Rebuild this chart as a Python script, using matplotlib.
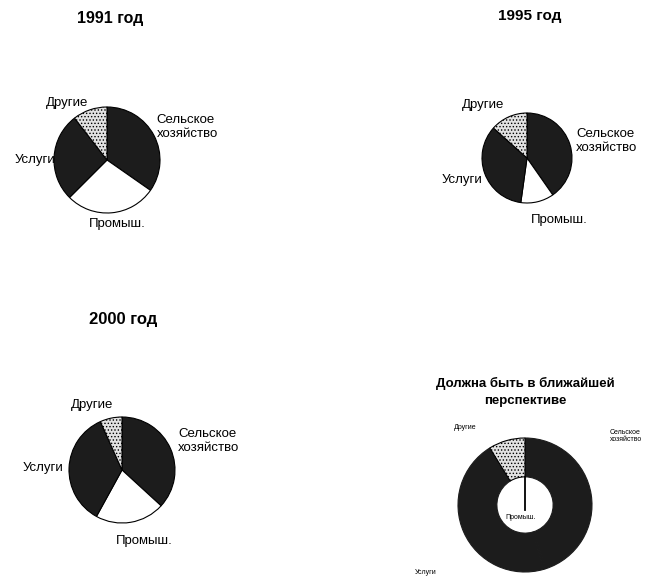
import math
import matplotlib
matplotlib.use("Agg")
import matplotlib.pyplot as plt

plt.rcParams['font.family'] = ['Liberation Sans', 'DejaVu Sans']
plt.rcParams['hatch.linewidth'] = 0.6

# employment structure, % (clockwise from 12 o'clock)
sectors = ['Сельское\nхозяйство', 'Промыш.', 'Услуги', 'Другие']
share_1991 = [34.7, 27.8, 27.0, 10.5]
share_1995 = [40.3, 11.9, 34.4, 13.4]
share_2000 = [36.8, 21.2, 35.3, 6.7]
share_future = [45.0, 0.5, 45.7, 8.8]
titles = ['1991 год', '1995 год', '2000 год', 'Должна быть в ближайшей\nперспективе']

W, H = 650, 581
DARK = '#1c1c1c'
face = [DARK, 'white', DARK, '#e2e2e2']
face_ring = [DARK, DARK, DARK, '#e2e2e2']
hatches = [None, None, None, '.....']

fig = plt.figure(figsize=(W / 100, H / 100), dpi=100)


def pie_axes(cx, cy, r):
    # axes box in pixels -> figure fraction, radius 1 == r pixels
    return fig.add_axes([(cx - r) / W, (H - cy - r) / H, 2 * r / W, 2 * r / H])


def draw(ax, values, label_pos, fs, colors=face, ring=None):
    wp = dict(edgecolor='black', linewidth=0.8)
    if ring is not None:
        wp['width'] = ring
    wedges, _ = ax.pie(values, colors=colors, startangle=90, counterclock=False,
                       radius=1, wedgeprops=wp)
    for w, h in zip(wedges, hatches):
        if h:
            w.set_hatch(h)
    if ring is not None:
        # dark ring segments merge into one, no seams between them
        for w, c in zip(wedges, colors):
            if c == DARK:
                w.set_edgecolor(DARK)
    # pie() resets the limits, so set them afterwards
    ax.set_xlim(-1, 1)
    ax.set_ylim(-1, 1)
    ax.set_aspect('equal')
    ax.axis('off')
    for name, (x, y, ha) in zip(sectors, label_pos):
        ax.text(x, y, name, ha=ha, va='center', fontsize=fs, linespacing=1.15)


# 1991
ax = pie_axes(107, 160, 53)
draw(ax, share_1991, [(0.94, 0.62, 'left'), (0.19, -1.21, 'center'),
                      (-0.98, 0.0, 'right'), (-0.75, 1.08, 'center')], 9.5)
fig.text(110 / W, 1 - 18 / H, titles[0], ha='center', va='center',
         fontsize=11.5, fontweight='bold')

# 1995
ax = pie_axes(527, 158, 45)
draw(ax, share_1995, [(1.09, 0.38, 'left'), (0.71, -1.38, 'center'),
                      (-1.0, -0.49, 'right'), (-0.98, 1.18, 'center')], 9.5)
fig.text(530 / W, 1 - 16 / H, titles[1], ha='center', va='center',
         fontsize=11, fontweight='bold')

# 2000
ax = pie_axes(122, 470, 53)
draw(ax, share_2000, [(1.06, 0.55, 'left'), (0.42, -1.34, 'center'),
                      (-1.11, 0.04, 'right'), (-0.57, 1.23, 'center')], 9.5)
fig.text(123 / W, 1 - 320 / H, titles[2], ha='center', va='center',
         fontsize=12, fontweight='bold')

# perspective (doughnut)
ring = 0.58
ax = pie_axes(525, 505, 67)
draw(ax, share_future, [(1.27, 1.03, 'left'), (-0.06, -0.18, 'center'),
                        (-1.48, -1.0, 'center'), (-0.9, 1.16, 'center')], 5,
     colors=face_ring, ring=ring)
hole = 1 - ring
a = math.radians(90)
ax.plot([0, hole * math.cos(a)], [-0.07, hole * math.sin(a)], color='black', lw=1.3)
fig.text(525 / W, 1 - 392 / H, titles[3], ha='center', va='center',
         fontsize=9.5, fontweight='bold', linespacing=1.45)

fig.savefig('out.png', dpi=100, facecolor='white')
